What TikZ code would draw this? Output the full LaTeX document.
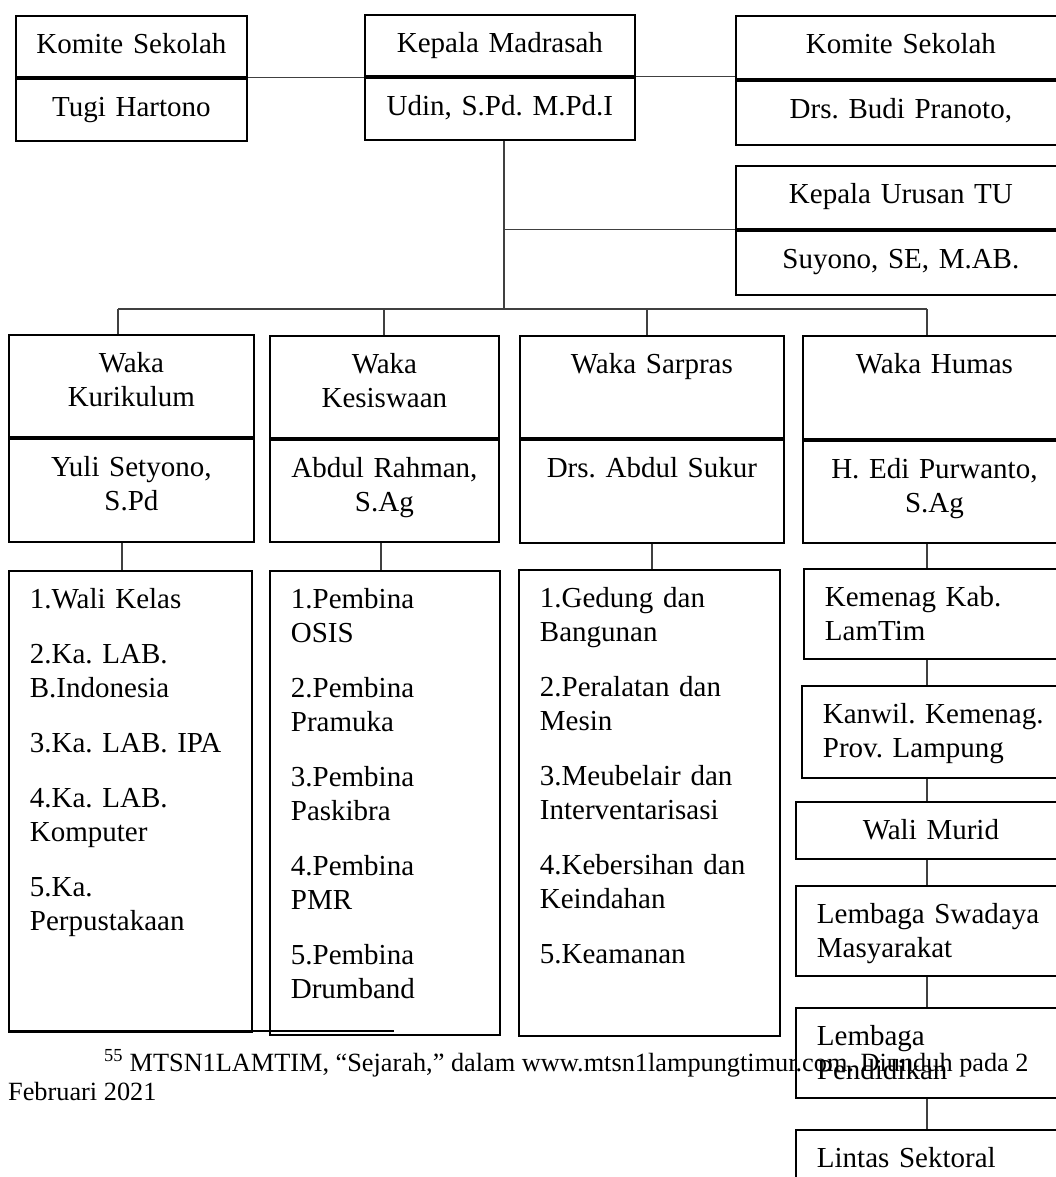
\documentclass[tikz,border=0pt]{standalone}
\usepackage{fontspec}
\setmainfont{Liberation Serif}
\usetikzlibrary{positioning}
\newcommand\orgfont{\fontsize{29}{34}\selectfont\frenchspacing\hyphenpenalty=10000}
\newcommand\notefont{\fontsize{26.3}{30}\selectfont\frenchspacing}
\tikzset{
  cell/.style n args={3}{draw, line width=1.8pt, anchor=north west, inner sep=0pt,
    text width=#1pt, text height=38pt, text depth=#2pt, align=#3, font=\orgfont},
  lcell/.style 2 args={cell={#1}{#2}{left}, inner xsep=21pt},
  link/.style={draw=black!75, line width=1.3pt},
  note/.style={anchor=base west, inner sep=0pt, font=\notefont}
}
\begin{document}
\begin{tikzpicture}[x=1pt,y=-1pt]
\useasboundingbox (0,0) rectangle (1056,1177);
\clip (0,0) rectangle (1056,1177);
\node [cell={231}{23}{center}] (kom_l) at (15,15) {Komite Sekolah};
\node [cell={231}{24}{center}] [below=0pt of kom_l] (kom_l_n) {Tugi Hartono};
\node [cell={270}{23}{center}] (kepala) at (364,14) {Kepala Madrasah};
\node [cell={270}{24}{center}] [below=0pt of kepala] (kepala_n) {Udin, S.Pd. M.Pd.I};
\node [cell={330}{25}{center}] (kom_r) at (735,15) {Komite Sekolah};
\node [cell={330}{26}{center}] [below=0pt of kom_r] (kom_r_n) {Drs. Budi Pranoto,};
\node [cell={330}{25}{center}] (tu) at (735,165) {Kepala Urusan TU};
\node [cell={330}{26}{center}] [below=0pt of tu] (tu_n) {Suyono, SE, M.AB.};
\node [cell={245}{64}{center}] (wk_1) at (8,334) {Waka\\Kurikulum};
\node [cell={245}{65}{center}] [below=0pt of wk_1] (wk_1_n) {Yuli Setyono,\\S.Pd};
\node [cell={229}{64}{center}] (wk_2) at (269,335) {Waka\\Kesiswaan};
\node [cell={229}{64}{center}] [below=0pt of wk_2] (wk_2_n) {Abdul Rahman,\\S.Ag};
\node [cell={264}{64}{center}] (wk_3) at (519,335) {Waka Sarpras};
\node [cell={264}{65}{center}] [below=0pt of wk_3] (wk_3_n) {Drs. Abdul Sukur};
\node [cell={263}{65}{center}] (wk_4) at (802,335) {Waka Humas};
\node [cell={263}{64}{center}] [below=0pt of wk_4] (wk_4_n) {H. Edi Purwanto,\\S.Ag};
\node [lcell={201}{423}] (ls_1) at (8,570) {1.Wali Kelas\\[21pt]2.Ka. LAB.\\B.Indonesia\\[21pt]3.Ka. LAB. IPA\\[21pt]4.Ka. LAB.\\Komputer\\[21pt]5.Ka.\\Perpustakaan};
\node [lcell={188}{426}] (ls_2) at (269,570) {1.Pembina\\OSIS\\[21pt]2.Pembina\\Pramuka\\[21pt]3.Pembina\\Paskibra\\[21pt]4.Pembina\\PMR\\[21pt]5.Pembina\\Drumband};
\node [lcell={219}{428}] (ls_3) at (518,569) {1.Gedung dan\\Bangunan\\[21pt]2.Peralatan dan\\Mesin\\[21pt]3.Meubelair dan\\Interventarisasi\\[21pt]4.Kebersihan dan\\Keindahan\\[21pt]5.Keamanan};
\node [lcell={240}{52}] (hm_1) at (803,568) {Kemenag Kab.\\LamTim};
\node [lcell={240}{54}] (hm_2) at (801,685) {Kanwil. Kemenag.\\Prov. Lampung};
\node [cell={270}{19}{center}] (hm_3) at (795,801) {Wali Murid};
\node [lcell={240}{52}] (hm_4) at (795,885) {Lembaga Swadaya\\Masyarakat};
\node [lcell={240}{52}] (hm_5) at (795,1007) {Lembaga\\Pendidikan};
\node [lcell={240}{42}] (hm_6) at (795,1129) {Lintas Sektoral};
\coordinate (spine) at (504,309);
\coordinate (b_1) at (118,309);
\coordinate (b_2) at (384,309);
\coordinate (b_3) at (647,309);
\coordinate (b_4) at (927,309);
\coordinate (d_1) at (122,550);
\coordinate (d_2) at (381,550);
\coordinate (d_3) at (652,550);
\path[link]
  (kom_l_n.north east) -- (kom_l_n.north east -| kepala.west)
  (kepala_n.north east) -- (kepala_n.north east -| kom_r.west)
  (spine |- kepala_n.south) -- (spine)
  (tu_n.north west) -- (tu_n.north west -| spine)
  (b_1) -- (b_4);
\foreach \i in {1,...,4}
  \draw[link] (b_\i) -- (b_\i |- wk_\i.north);
\foreach \i in {1,...,3}
  \draw[link] (d_\i |- wk_\i_n.south) -- (d_\i |- ls_\i.north);
\draw[link] (b_4 |- wk_4_n.south) -- (b_4 |- hm_1.north);
\foreach \a/\b in {1/2,2/3,3/4,4/5,5/6}
  \draw[link] (b_4 |- hm_\a.south) -- (b_4 |- hm_\b.north);
\draw[line width=1.3pt] (8,1031) -- (394,1031);
\node [note] (fn_1) at (104,1071) {\textsuperscript{55} MTSN1LAMTIM, “Sejarah,” dalam www.mtsn1lampungtimur.com. Diunduh pada 2};
\node [note] (fn_2) at (8,1100) {Februari 2021};
\end{tikzpicture}
\end{document}
